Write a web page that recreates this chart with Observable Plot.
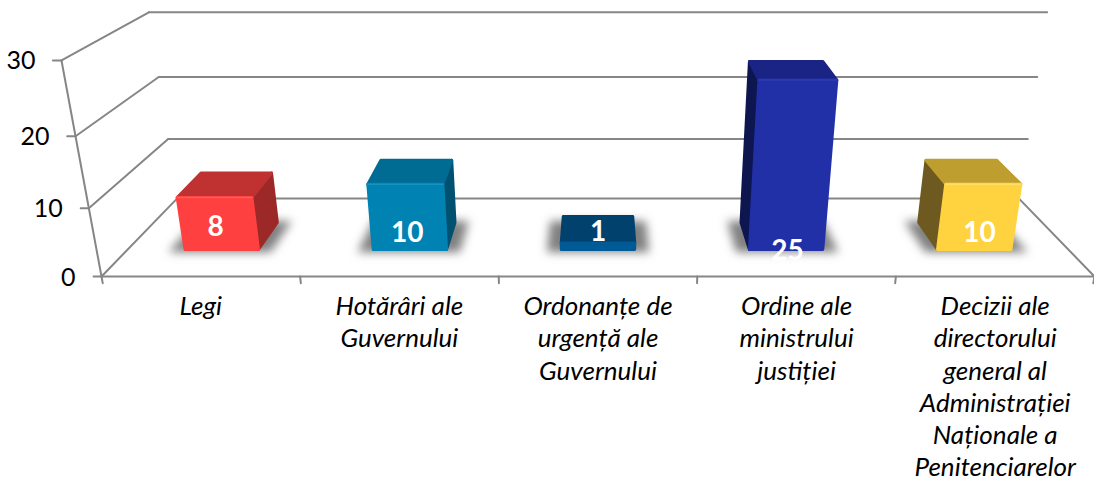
<!DOCTYPE html>
<html><head><meta charset="utf-8">
<script src="https://cdn.jsdelivr.net/npm/d3@7"></script>
<script src="https://cdn.jsdelivr.net/npm/@observablehq/plot@0.6"></script>
<style>html,body{margin:0;background:#fff}</style>
</head><body>
<div id="chart"></div>
<script>
const categories = ["Legi", "Hotărâri ale\nGuvernului", "Ordonanțe de\nurgență ale\nGuvernului", "Ordine ale\nministrului\njustiției", "Decizii ale\ndirectorului\ngeneral al\nAdministrației\nNaționale a\nPenitenciarelor"];
const values = [8, 10, 1, 25, 10];
const frontColors = ["#ff4040", "#0082b2", "#005a96", "#2230a8", "#ffd340"];
const topColors = ["#c03232", "#006c94", "#00416e", "#1a2484", "#bf9e30"];
const sideColors = ["#9c2828", "#005070", "#00416e", "#0e1650", "#6e5a20"];
const edgeColors = ["#ff6a6a", "#1f9ac8", "#00416e", "#3642b8", "#ffe278"];
const yTicks = [0, 10, 20, 30];
const xTicks = [0, 1, 2, 3, 4, 5];
const labelRise = [3.9, 3.1, 3.2, 0.2, 3.1];

// Chart-space perspective: u = category axis, v = value axis, d = depth into the scene.
const project = (u, v, d) => {
  const w = 1 + 0.18 * d - 0.002486 * v;
  return {x: 2.5 + (u - 2.5) / w, y: (0.9256 * v + 12.8 * d) / w};
};
const seg = (id, a, b) => [a, b].map(([u, v, d]) => ({id, ...project(u, v, d)}));
const FRONT = 0.31, BACK = 0.655, HALF = 0.195, END = 1;

const frameLines = [
  ...seg("axisY", [0, 0, 0], [0, 30, 0]),
  ...seg("axisX", [0, 0, 0], [5, 0, 0]),
  ...seg("floorR", [5, 0, 0], [5, 0, END]),
  ...yTicks.flatMap(t => [
    ...seg("wall" + t, [0, t, 0], [0, t, END]),
    ...seg("grid" + t, [0, t, END], [5, t, END]),
    ...seg("ty" + t, [0, t, 0], [-0.04, t, 0])
  ]),
  ...xTicks.flatMap(t => seg("tx" + t, [t, 0, 0], [t, -1, 0]))
];

const poly = (id, color, pts) => [...pts, pts[0]].map(([u, v, d]) => ({id, color, ...project(u, v, d)}));
const shadows = [], faces = [], edges = [];
values.forEach((val, i) => {
  const c = i + 0.5, l = c - HALF, r = c + HALF;
  shadows.push(...poly("s" + i, "#808080", [[c - 0.27, 0, FRONT - 0.035], [c + 0.27, 0, FRONT - 0.035], [c + 0.27, 0, BACK + 0.02], [c - 0.27, 0, BACK + 0.02]]));
  if (i !== 2) {
    const sx = i < 2 ? r : l;
    faces.push(...poly("side" + i, sideColors[i], [[sx, 0, FRONT], [sx, val, FRONT], [sx, val, BACK], [sx, 0, BACK]]));
  }
  faces.push(...poly("top" + i, topColors[i], [[l, val, FRONT], [r, val, FRONT], [r, val, BACK], [l, val, BACK]]));
  faces.push(...poly("front" + i, frontColors[i], [[l, 0, FRONT], [r, 0, FRONT], [r, val, FRONT], [l, val, FRONT]]));
  if (i !== 2) edges.push(...seg("e" + i, [l, val, FRONT], [r, val, FRONT]).map(p => ({...p, color: edgeColors[i]})));
});

const xTickLabels = categories.map((text, i) => ({text, x: i + 0.5, y: 0}));
const yTickLabels = yTicks.map(t => ({t, ...project(0, t, 0)}));
const valueLabels = values.map((val, i) => ({val, ...project(i + 0.5, labelRise[i], 0.27)}));

const chart = Plot.plot({
  width: 1094, height: 481, margin: 0,
  x: {domain: [0, 5], range: [101, 1094], axis: null},
  y: {domain: [0, 30], range: [276, 60], axis: null},
  color: {type: "identity"},
  style: {background: "#fff", overflow: "hidden"},
  marks: [
    Plot.line(frameLines, {x: "x", y: "y", z: "id", stroke: "#868686", strokeWidth: 2, curve: "linear"}),
    Plot.line(shadows, {x: "x", y: "y", z: "id", fill: "color", curve: "linear"}),
    Plot.line(faces, {x: "x", y: "y", z: "id", fill: "color", stroke: "color", strokeWidth: 3, strokeLinejoin: "round", curve: "linear"}),
    Plot.line(edges, {x: "x", y: "y", z: "id", stroke: "color", strokeWidth: 1.5, strokeOpacity: 0.7, curve: "linear"}),
    Plot.text(yTickLabels, {x: "x", y: "y", text: d => String(d.t), textAnchor: "end", dx: -26, dy: 1, fontFamily: "Lato", fontSize: 25, fill: "#000"}),
    Plot.text(xTickLabels, {x: "x", y: "y", text: "text", lineAnchor: "top", dy: 16, lineHeight: 1.235, fontFamily: "Lato", fontStyle: "italic", fontSize: 26, fill: "#000"}),
    Plot.text(valueLabels, {x: "x", y: "y", text: d => String(d.val), fontFamily: "Lato", fontWeight: 700, fontSize: 28, fill: "#fff"})
  ]
});
const defs = d3.select(chart).insert("defs", ":first-child");
defs.append("filter").attr("id", "floor-blur").attr("filterUnits", "userSpaceOnUse")
  .attr("x", 0).attr("y", 0).attr("width", 1094).attr("height", 481)
  .append("feGaussianBlur").attr("stdDeviation", 5);
chart.querySelectorAll('g[aria-label="line"]')[1].setAttribute("filter", "url(#floor-blur)");
document.getElementById("chart").append(chart);
</script>
</body></html>
